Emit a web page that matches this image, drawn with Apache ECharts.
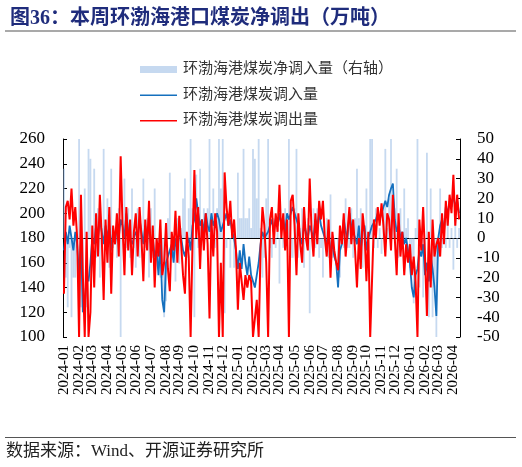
<!DOCTYPE html>
<html><head><meta charset="utf-8">
<script src="https://cdn.jsdelivr.net/npm/echarts@6/dist/echarts.min.js"></script>
<style>html,body{margin:0;padding:0;background:#fff}#c{width:522px;height:467px}</style>
</head><body><div id="c"></div>
<script>
// sampling: every 4 days from 2024-01-01
const startDate = '2024-01-01';
const stepDays = 4;
const leftTicks = [100, 260, 20];
const rightTicks = [-50, 50, 10];
const seriesNames = ['环渤海港煤炭净调入量（右轴）', '环渤海港煤炭调入量', '环渤海港煤炭调出量'];

// 调出量 (red, left axis, 万吨)
const outflow = [
 135,205,210,195,220,190,205,180,
 100,215,150,100,185,100,120,
 190,140,200,165,215,180,130,195,
 160,205,135,190,175,200,165,
 246,190,150,205,170,195,150,185,
 200,165,205,180,145,195,170,210,
 160,190,140,180,165,195,150,
 160,192,155,137,185,170,202,160,
 198,175,150,135,185,165,100,175,
 235,180,205,155,195,170,200,
 175,115,195,165,200,185,100,160,
 100,233,205,190,210,180,195,170,
 122,160,145,130,150,140,150,
 145,100,100,130,100,170,205,190,
 160,100,195,205,175,200,185,
 223,180,200,170,195,100,210,215,
 190,150,200,175,160,205,180,170,
 228,185,165,200,175,210,195,
 210,180,165,195,148,185,170,160,
 154,190,175,200,165,185,205,175,
 195,170,140,180,155,200,185,
 145,185,100,100,195,180,205,190,
 208,190,165,200,195,170,215,
 180,150,200,165,185,150,175,160,
 175,150,165,145,100,195,170,205,
 165,117,185,140,195,165,175,
 180,165,200,175,210,190,215,200,
 231,190,215,195
];
// 调入量 (blue, left axis, 万吨)
const inflow = [
 170,185,175,190,180,170,185,175,
 150,180,120,125,150,145,160,
 180,175,190,180,195,185,175,190,
 180,190,170,185,175,190,180,
 195,190,180,200,185,185,175,180,
 185,180,195,185,175,190,180,190,
 175,180,165,170,150,175,130,
 120,160,165,170,175,160,180,170,
 185,180,170,165,175,180,170,190,
 195,212,200,190,195,185,200,
 190,185,200,190,195,200,195,185,
 190,195,200,190,195,185,180,170,
 155,170,155,175,160,150,165,
 150,145,140,150,160,175,185,180,
 180,185,190,195,185,195,190,
 200,190,195,185,200,195,200,205,
 205,195,190,180,175,190,185,180,
 190,185,180,195,190,200,190,
 190,180,175,185,170,175,165,160,
 140,170,175,195,185,180,200,190,
 185,180,175,190,170,185,190,
 170,180,185,190,190,195,200,195,
 200,205,210,205,215,220,224,
 195,185,190,180,185,175,180,170,
 160,140,132,150,155,170,165,175,
 150,160,145,165,155,140,117,
 180,190,195,185,205,200,210,205,
 215,205,210,200
];
// 净调入量 (light blue bars, right axis, 万吨)
const netInflow = [
 35,-20,-35,-5,-40,-20,-20,-5,
 50,-35,-30,25,-35,45,40,
 -10,35,-10,15,-20,5,45,-5,
 20,-15,35,-5,0,-10,15,
 -50,0,30,-5,15,-10,25,-5,
 -15,15,-10,5,30,-5,10,-20,
 15,-10,25,-10,-15,-20,-20,
 -40,-32,10,33,-10,-10,-22,10,
 -13,5,20,30,-10,15,50,15,
 -40,32,-5,35,0,15,0,
 15,50,5,25,-5,15,50,25,
 50,-38,-5,0,-15,5,-15,0,
 33,10,10,45,10,10,15,
 5,45,40,20,50,5,-20,-10,
 20,50,-5,-10,10,-5,5,
 -23,10,-5,15,5,50,-10,-10,
 15,45,-10,5,15,-15,5,10,
 -38,0,15,-5,15,-10,-5,
 -20,0,10,-10,22,-10,-5,0,
 -14,-20,0,-5,20,-5,-5,15,
 -10,10,35,10,15,-15,5,
 25,-5,50,50,-5,15,-5,5,
 -8,15,45,5,20,50,9,
 15,35,-10,15,0,25,5,10,
 -15,-10,-33,5,50,-25,-5,-30,
 -15,43,-40,25,-40,-25,-50,
 0,25,-5,10,-5,10,-5,5,
 -16,15,-5,5
];

// category dates (axis positions only)
const dates = [];
(function(){
  const d0 = new Date(startDate + 'T00:00:00Z');
  for (let i = 0; i < outflow.length; i++) {
    const d = new Date(d0.getTime() + i * stepDays * 86400000);
    dates.push(d.toISOString().slice(0, 10));
  }
})();
const monthStart = function(idx){
  return idx === 0 || dates[idx].slice(0,7) !== dates[idx-1].slice(0,7);
};

const serif = '"Liberation Serif", "Noto Sans CJK SC", serif';
const lineIcon = 'path://M0,0h0.05v0.05h-0.05Z M0,3h37v1.6h-37Z M0,7h0.05v-0.05h-0.05Z';
const chart = echarts.init(document.getElementById('c'));
chart.setOption({
  animation: false,
  backgroundColor: '#fff',
  title: {
    text: '图36：本周环渤海港口煤炭净调出（万吨）',
    left: 5, top: 4,
    textStyle: { fontFamily: serif, fontSize: 20, fontWeight: 'bold', color: '#1F2C7C' }
  },
  graphic: [
    { type: 'line', shape: { x1: 5, y1: 31, x2: 516, y2: 31 }, style: { stroke: '#555', lineWidth: 1.2 } },
    { type: 'line', shape: { x1: 5, y1: 437.5, x2: 516, y2: 437.5 }, style: { stroke: '#555', lineWidth: 1.2 } },
    { type: 'text', left: 6, top: 443, style: { text: '数据来源：Wind、开源证券研究所', font: '17px ' + serif, fill: '#222' } }
  ],
  legend: {
    orient: 'vertical', left: 140, top: 62, padding: 0,
    itemWidth: 37, itemHeight: 7, itemGap: 10.5,
    textStyle: { fontFamily: serif, fontSize: 15, color: '#333', padding: [0,0,0,1] },
    data: [
      { name: seriesNames[0], icon: 'rect' },
      { name: seriesNames[1], icon: lineIcon },
      { name: seriesNames[2], icon: lineIcon }
    ]
  },
  grid: { left: 63, right: 62, top: 139, bottom: 130 },
  xAxis: {
    type: 'category', data: dates, boundaryGap: true,
    axisLine: { lineStyle: { color: '#000', width: 1 } },
    axisTick: { inside: true, length: 4, alignWithLabel: true, interval: monthStart, lineStyle: { color: '#000' } },
    axisLabel: {
      interval: monthStart, rotate: 90, margin: 8,
      fontFamily: serif, fontSize: 15, color: '#000',
      formatter: function(v){ return v.slice(0,7); }
    }
  },
  yAxis: [
    { type: 'value', min: leftTicks[0], max: leftTicks[1], interval: leftTicks[2],
      axisLine: { show: true, lineStyle: { color: '#000' } },
      axisTick: { show: true, inside: true, length: 4, lineStyle: { color: '#000' } },
      splitLine: { show: false },
      axisLabel: { margin: 18, fontFamily: serif, fontSize: 17, color: '#000' } },
    { type: 'value', min: rightTicks[0], max: rightTicks[1], interval: rightTicks[2], position: 'right',
      axisLine: { show: true, lineStyle: { color: '#000' } },
      axisTick: { show: true, inside: true, length: 4, lineStyle: { color: '#000' } },
      splitLine: { show: false },
      axisLabel: { margin: 17, fontFamily: serif, fontSize: 17, color: '#000' } }
  ],
  series: [
    { name: seriesNames[0], type: 'bar', yAxisIndex: 1, data: netInflow, barWidth: '95%',
      itemStyle: { color: 'rgba(141,180,226,0.5)' }, clip: true },
    { name: seriesNames[1], type: 'line', yAxisIndex: 0, data: inflow, showSymbol: false, symbol: 'none',
      lineStyle: { color: '#1570BE', width: 1.8 }, itemStyle: { color: '#1570BE' }, clip: true },
    { name: seriesNames[2], type: 'line', yAxisIndex: 0, data: outflow, showSymbol: false, symbol: 'none',
      lineStyle: { color: '#FF0000', width: 2 }, itemStyle: { color: '#FF0000' }, clip: true }
  ]
});
</script></body></html>
